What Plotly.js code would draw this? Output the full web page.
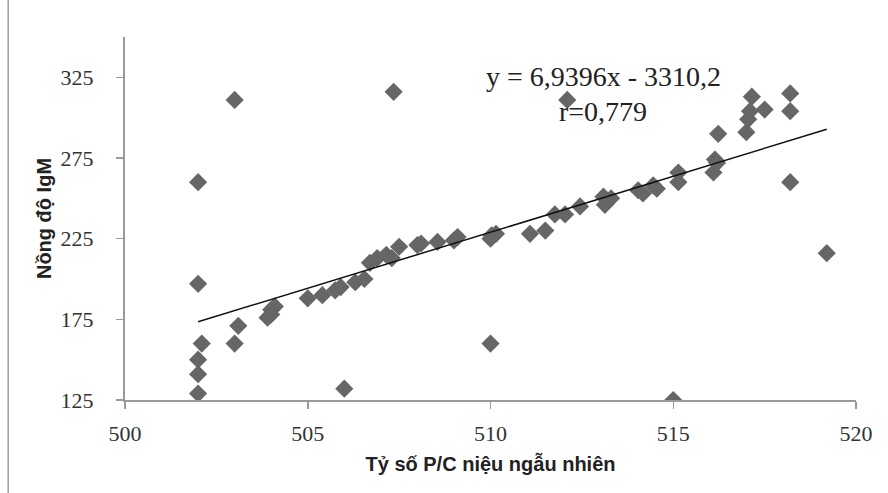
<!DOCTYPE html>
<html>
<head>
<meta charset="utf-8">
<script src="https://cdn.plot.ly/plotly-3.0.1.min.js"></script>
<style>html,body{margin:0;padding:0;background:#fff;}#chart{width:888px;height:493px;}</style>
</head>
<body>
<div id="chart"></div>
<script>
const xValues = [502, 502, 502.1, 502, 502, 502, 503, 503.1, 503, 503.9, 504, 504, 504.1,
  505, 505.4, 505.75, 505.9, 506.3, 506.55, 506.7, 506.9, 507.15, 507.3, 507.5, 508, 508.1,
  508.55, 509, 509.1, 510, 510.03, 510.15, 510, 506, 507.35, 512.1, 515, 519.2,
  511.08, 511.5, 511.76, 512.04, 512.45, 513.09, 513.13, 513.3, 514.04, 514.17, 514.45, 514.55,
  515.14, 515.14, 516.1, 516.14, 516.2, 516.23, 517, 517.05, 517.1, 517.15, 517.5, 518.2, 518.2, 518.2];
const yValues = [260, 197, 160, 150, 141, 129, 311, 171, 160, 176, 178, 181, 183,
  188, 190, 193, 195, 198, 200, 210, 213, 215, 213, 220, 221, 222,
  223, 224, 226, 225, 227, 228, 160, 132, 316, 311, 125, 216,
  228, 230, 240, 240, 245, 251, 246, 250, 255, 253, 258, 256,
  266, 260, 266, 274, 272, 290, 291, 299, 304, 313, 305, 315, 304, 260];
const slope = 6.9396;
const intercept = -3310.2;
const equationText = "y = 6,9396x - 3310,2";
const rText = "r=0,779";
const xTitle = "Tỷ số P/C niệu ngẫu nhiên";
const yTitle = "Nồng độ IgM";

const xmin = Math.min(...xValues), xmax = Math.max(...xValues);
const trendX = [xmin, xmax];
const trendY = trendX.map(v => slope * v + intercept);

const data = [
  {x: xValues, y: yValues, type: 'scatter', mode: 'markers',
   marker: {symbol: 'diamond', size: 14, color: '#666666'}, hoverinfo: 'x+y'},
  {x: trendX, y: trendY, type: 'scatter', mode: 'lines',
   line: {color: '#111111', width: 1.5}, hoverinfo: 'skip'}
];

const axisCommon = {
  showline: true, linecolor: '#9a9a9a', linewidth: 2,
  ticks: 'outside', ticklen: 7, tickwidth: 1.5, tickcolor: '#9a9a9a',
  showgrid: false, zeroline: false,
  tickfont: {family: 'Liberation Serif, Times New Roman, serif', size: 22, color: '#333333'}
};

const layout = {
  width: 888, height: 493,
  margin: {l: 125, r: 32, t: 37, b: 93},
  paper_bgcolor: '#ffffff', plot_bgcolor: '#ffffff',
  showlegend: false,
  xaxis: Object.assign({}, axisCommon, {
    range: [500, 520], tick0: 500, dtick: 5, ticklabelstandoff: 6,
    title: {text: xTitle, standoff: 12,
            font: {family: 'Liberation Sans, Arial, sans-serif', size: 20, color: '#222222', weight: 'bold'}}
  }),
  yaxis: Object.assign({}, axisCommon, {
    range: [125, 350], tick0: 125, dtick: 50, ticklabelstandoff: 18,
    title: {text: yTitle, standoff: 4,
            font: {family: 'Liberation Sans, Arial, sans-serif', size: 20, color: '#222222', weight: 'bold'}}
  }),
  annotations: [
    {xref: 'paper', yref: 'paper', x: 0.654, y: 0.89, xanchor: 'center', yanchor: 'middle',
     text: equationText, showarrow: false,
     font: {family: 'Liberation Serif, Times New Roman, serif', size: 28, color: '#222222'}},
    {xref: 'paper', yref: 'paper', x: 0.654, y: 0.795, xanchor: 'center', yanchor: 'middle',
     text: rText, showarrow: false,
     font: {family: 'Liberation Serif, Times New Roman, serif', size: 28, color: '#222222'}}
  ],
  shapes: [
    {type: 'line', xref: 'paper', yref: 'paper', x0: -0.1598, x1: -0.1598, y0: -0.3, y1: 1.12,
     line: {color: '#9a9a9a', width: 1.5}}
  ]
};

Plotly.newPlot('chart', data, layout, {displayModeBar: false, staticPlot: true});
</script>
</body>
</html>
